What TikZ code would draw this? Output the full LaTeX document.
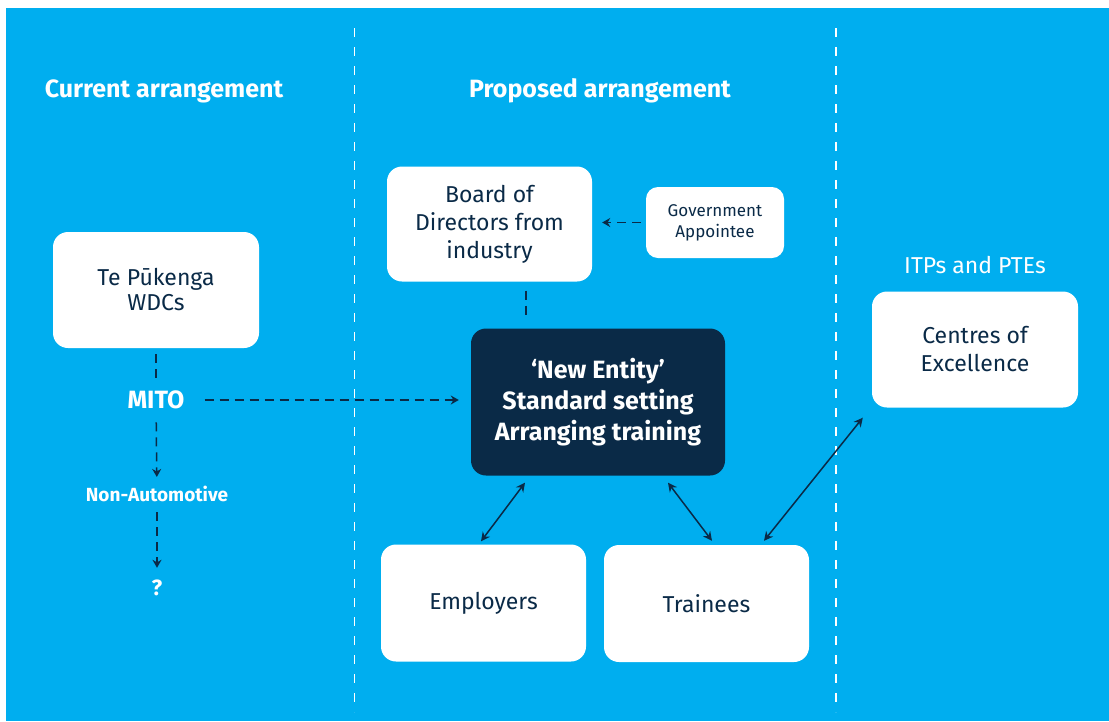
\documentclass[tikz,border=0pt]{standalone}
\usepackage{fontspec}
\setmainfont{Fira Sans}
\usetikzlibrary{arrows.meta,positioning,calc}

\definecolor{skyblue}{HTML}{00AEEF}
\definecolor{navy}{HTML}{0A2A47}

\tikzset{
	box/.style={fill=white, rounded corners=15pt, text=navy, align=center,
		minimum width=206pt, minimum height=116pt, inner sep=0pt,
		font=\fontsize{23}{25}\selectfont},
	heading/.style={text=white, inner sep=0pt, font=\bfseries\fontsize{25}{28}\selectfont},
	flowdash/.style={navy, line width=1.5pt, dash pattern=on 9pt off 6pt},
	flowarrow/.style={flowdash, -{Stealth[length=8pt,width=9pt]}},
	link/.style={navy, line width=1.5pt, {Stealth[length=9pt,width=9pt]}-{Stealth[length=9pt,width=9pt]}},
	divider/.style={white, line width=1.5pt, dash pattern=on 9pt off 10pt},
}

\begin{document}
\begin{tikzpicture}[x=1pt, y=-1pt]
	\useasboundingbox (0,0) rectangle (1109,721);
	\fill[skyblue] (6,8) rectangle (1109,721);

	% column dividers
	\draw[divider] (354.5,28) -- (354.5,712);
	\draw[divider] (836,28) -- (836,712);

	\node[heading] (current) at (164,91) {Current arrangement};
	\node[heading] (proposed) at (600,91) {Proposed arrangement};

	% current arrangement
	\node[box] (wdc) at (156,290) {Te Pūkenga\\WDCs};
	\node[heading] (mito) at (156,400) {MITO};
	\node[heading, font=\bfseries\fontsize{19}{22}\selectfont] (nonauto) at (157,494) {Non-Automotive};
	\node[heading, font=\bfseries\fontsize{22}{25}\selectfont] (unknown) at (157,588) {?};

	% proposed arrangement
	\node[box, minimum width=205pt, minimum height=115pt, font=\fontsize{23}{28}\selectfont] (board) at (489.5,224) {Board of\\Directors from\\industry};
	\node[box, minimum width=138pt, minimum height=71pt, rounded corners=12pt, font=\fontsize{17}{21}\selectfont] (gov) at (715,222.5) {Government\\Appointee};
	\node[box, fill=navy, text=white, minimum width=254pt, minimum height=147pt, font=\bfseries\fontsize{25}{31}\selectfont] (entity) at (598,402) {‘New Entity’\\Standard setting\\Arranging training};
	\node[box, minimum width=205pt, minimum height=117pt] (emp) at (483.5,603) {Employers};
	\node[box, minimum width=205pt, minimum height=117pt] (trn) at (706.5,603.5) {Trainees};

	% providers
	\node[box, font=\fontsize{23}{28}\selectfont] (coe) at (975,349.5) {Centres of\\Excellence};
	\node[text=white, inner sep=0pt, font=\fontsize{23}{26}\selectfont, above=17pt of coe] (itp) {ITPs and PTEs};

	% connectors
	\draw[flowdash, shorten <=6pt, shorten >=13pt] (wdc) -- (mito);
	\draw[flowarrow, shorten <=13pt, shorten >=9pt] (mito) -- (nonauto);
	\draw[flowarrow, shorten <=10pt, shorten >=12pt] (nonauto) -- (unknown);
	\draw[flowarrow, shorten <=20pt, shorten >=12pt] (mito.east) -- (mito.east -| entity.west);
	\draw[flowarrow, shorten <=5pt, shorten >=10pt] (gov.west) -- (gov.west -| board.east);
	\draw[flowdash] ($(board.south)+(36.5,9)$) -- ($(entity.north)+(-72,-10)$);
	\draw[link] ($(emp.north)+(-2.5,-3)$) -- ($(entity.south)+(-73,7)$);
	\draw[link] ($(trn.north)+(5.5,-4)$) -- ($(entity.south)+(70,7)$);
	\draw[link] ($(trn.north)+(57.5,-4)$) -- ($(coe.south west)+(-9,10)$);
\end{tikzpicture}
\end{document}
